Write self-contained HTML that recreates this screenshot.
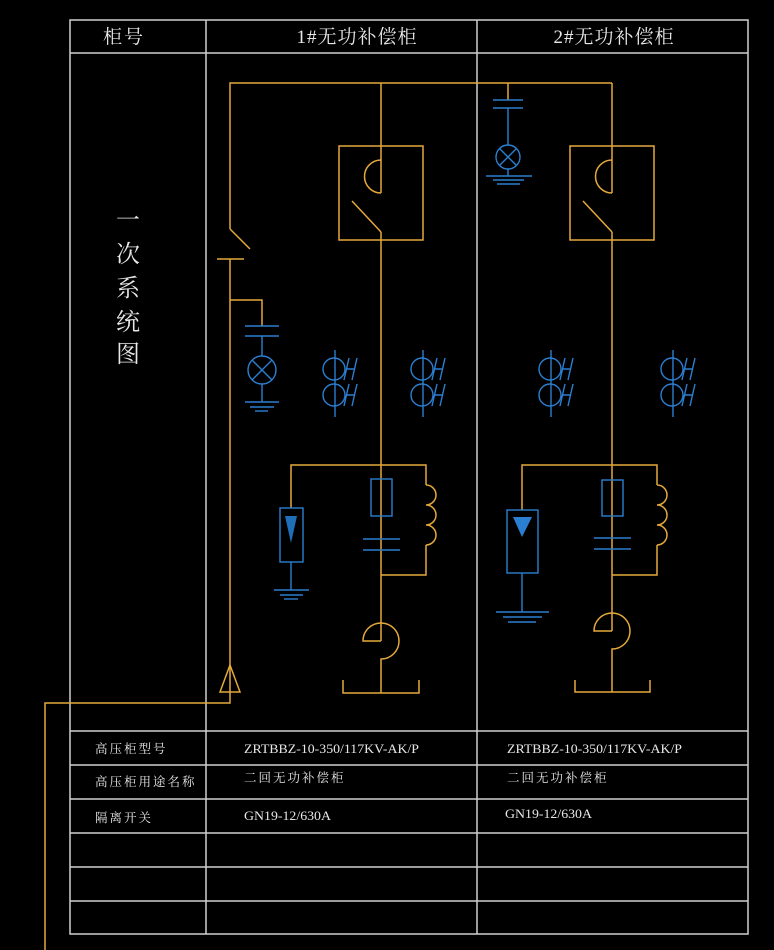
<!DOCTYPE html>
<html><head><meta charset="utf-8"><style>
html,body{margin:0;padding:0;background:#000;}
svg{display:block;}
text{font-family:"Liberation Serif","Noto Serif CJK SC","Noto Sans CJK SC",serif;fill:#e8e8e8;}
</style></head><body>
<svg width="774" height="950" viewBox="0 0 774 950" xmlns="http://www.w3.org/2000/svg">
<defs>
<g id="ct" stroke="#2b7fd0" stroke-width="1.4" fill="none">
<line x1="0" y1="-18" x2="0" y2="49"/>
<circle cx="-1" cy="1" r="11"/>
<circle cx="-1" cy="27" r="11"/>
<path d="M9 12 L14 -10 M17 12 L22 -10 M11 1 L20 1"/>
<path d="M9 38 L14 16 M17 38 L22 16 M11 27 L20 27"/>
</g>
<g id="cs">
<rect x="-42" y="0" width="84" height="94" fill="none" stroke="#e5a93b" stroke-width="1.5"/>
<path d="M0 14 A16.5 16.5 0 0 0 0 47" fill="none" stroke="#e5a93b" stroke-width="1.5"/>
<line x1="-29" y1="55" x2="0" y2="86" stroke="#e5a93b" stroke-width="1.5"/>
</g>
</defs>
<g stroke="#cfcfcf" stroke-width="1.5" fill="none">
<rect x="70" y="20" width="678" height="914"/>
<line x1="206" y1="20" x2="206" y2="934"/>
<line x1="477" y1="20" x2="477" y2="934"/>
<line x1="70" y1="53" x2="748" y2="53"/>
<line x1="70" y1="731" x2="748" y2="731"/>
<line x1="70" y1="765" x2="748" y2="765"/>
<line x1="70" y1="799" x2="748" y2="799"/>
<line x1="70" y1="833" x2="748" y2="833"/>
<line x1="70" y1="867" x2="748" y2="867"/>
<line x1="70" y1="901" x2="748" y2="901"/>
</g>
<text x="124" y="43" font-size="19" text-anchor="middle" letter-spacing="2">柜号</text>
<text x="357" y="43" font-size="19" text-anchor="middle" letter-spacing="1">1#无功补偿柜</text>
<text x="614" y="43" font-size="19" text-anchor="middle" letter-spacing="1">2#无功补偿柜</text>
<g font-size="24" text-anchor="middle">
<text x="128" y="228">一</text><text x="128" y="262">次</text><text x="128" y="296">系</text><text x="128" y="330">统</text><text x="128" y="362">图</text>
</g>
<g font-size="12.5">
<text x="95" y="753" letter-spacing="2">高压柜型号</text>
<text x="95" y="786" letter-spacing="2">高压柜用途名称</text>
<text x="95" y="822" letter-spacing="2">隔离开关</text>
<text x="244" y="753" textLength="175" lengthAdjust="spacingAndGlyphs">ZRTBBZ-10-350/117KV-AK/P</text>
<text x="507" y="753" textLength="175" lengthAdjust="spacingAndGlyphs">ZRTBBZ-10-350/117KV-AK/P</text>
<text x="244" y="782" letter-spacing="2">二回无功补偿柜</text>
<text x="507" y="782" letter-spacing="2">二回无功补偿柜</text>
<text x="244" y="820" textLength="87" lengthAdjust="spacingAndGlyphs">GN19-12/630A</text>
<text x="505" y="818" textLength="87" lengthAdjust="spacingAndGlyphs">GN19-12/630A</text>
</g>
<g stroke="#e5a93b" stroke-width="1.5" fill="none">
<polyline points="230,229 230,83 612,83"/>
<line x1="230" y1="229" x2="250" y2="249"/>
<line x1="217" y1="259" x2="244" y2="259"/>
<polyline points="230,259 230,703 45,703 45,950"/>
<polygon points="230,665 220,692 240,692"/>
<polyline points="230,300 262,300 262,326"/>
<line x1="381" y1="83" x2="381" y2="193"/>
<line x1="381" y1="232" x2="381" y2="641"/>
<polyline points="291,508 291,465 426,465 426,485"/>
<path d="M426 485 a10 10 0 0 1 0 20 a10 10 0 0 1 0 20 a10 10 0 0 1 0 20"/>
<polyline points="426,545 426,575 381,575"/>
<path d="M381 641 L363 641 A18 18 0 1 1 381 659 L381 693"/>
<polyline points="343,680 343,693 419,693 419,680"/>
<line x1="508" y1="83" x2="508" y2="100"/>
<line x1="612" y1="83" x2="612" y2="193"/>
<line x1="612" y1="232" x2="612" y2="631"/>
<polyline points="522,510 522,465 657,465 657,485"/>
<path d="M657 485 a10 10 0 0 1 0 20 a10 10 0 0 1 0 20 a10 10 0 0 1 0 20"/>
<polyline points="657,545 657,575 612,575"/>
<path d="M612 631 L594 631 A18 18 0 1 1 612 649 L612 692"/>
<polyline points="575,680 575,692 650,692 650,680"/>
</g>
<use href="#cs" x="381" y="146"/>
<use href="#cs" x="612" y="146"/>
<use href="#ct" x="335" y="368"/>
<use href="#ct" x="423" y="368"/>
<use href="#ct" x="551" y="368"/>
<use href="#ct" x="673" y="368"/>
<g stroke="#2b7fd0" stroke-width="1.4" fill="none">
<line x1="245" y1="326" x2="279" y2="326"/><line x1="245" y1="336" x2="279" y2="336"/>
<line x1="262" y1="336" x2="262" y2="356"/>
<circle cx="262" cy="370" r="14"/>
<path d="M252 360 L272 380 M272 360 L252 380"/>
<line x1="262" y1="384" x2="262" y2="402"/>
<line x1="245" y1="402" x2="279" y2="402"/><line x1="250" y1="407" x2="274" y2="407"/><line x1="255" y1="411" x2="268" y2="411"/>
<line x1="493" y1="100" x2="523" y2="100"/><line x1="493" y1="108" x2="523" y2="108"/>
<line x1="508" y1="108" x2="508" y2="145"/>
<circle cx="508" cy="157" r="12"/>
<path d="M500 149 L516 165 M516 149 L500 165"/>
<line x1="508" y1="169" x2="508" y2="176"/>
<line x1="486" y1="176" x2="532" y2="176"/><line x1="493" y1="180" x2="524" y2="180"/><line x1="497" y1="184" x2="520" y2="184"/>
<rect x="371" y="479" width="21" height="37"/>
<line x1="363" y1="539" x2="400" y2="539"/><line x1="363" y1="550" x2="400" y2="550"/>
<rect x="280" y="508" width="23" height="54"/>
<line x1="291" y1="562" x2="291" y2="590"/>
<line x1="274" y1="590" x2="309" y2="590"/><line x1="280" y1="595" x2="303" y2="595"/><line x1="284" y1="599" x2="298" y2="599"/>
<rect x="602" y="480" width="21" height="36"/>
<line x1="594" y1="538" x2="631" y2="538"/><line x1="594" y1="549" x2="631" y2="549"/>
<rect x="507" y="510" width="31" height="63"/>
<line x1="522" y1="573" x2="522" y2="612"/>
<line x1="496" y1="612" x2="549" y2="612"/><line x1="503" y1="617" x2="542" y2="617"/><line x1="508" y1="622" x2="536" y2="622"/>
</g>
<polygon points="285,516 297,516 291,543" fill="#1f6fb8"/>
<polygon points="513,517 532,517 522,537" fill="#2b7fd0"/>
</svg>
</body></html>
